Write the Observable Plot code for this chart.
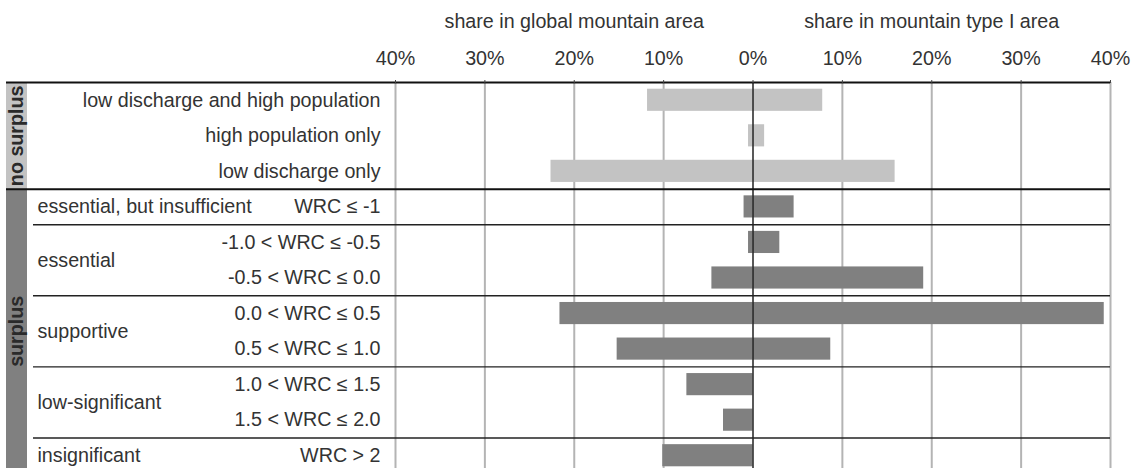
<!DOCTYPE html>
<html><head><meta charset="utf-8">
<script src="https://cdn.jsdelivr.net/npm/d3@7"></script>
<script src="https://cdn.jsdelivr.net/npm/@observablehq/plot@0.6"></script>
<style>
html,body{margin:0;padding:0;background:#fff;overflow:hidden;}
</style></head><body><div id="chart"></div>
<script>
const rowLabels = [
  "low discharge and high population",
  "high population only",
  "low discharge only",
  "WRC \u2264 -1",
  "-1.0 < WRC \u2264 -0.5",
  "-0.5 < WRC \u2264 0.0",
  "0.0 < WRC \u2264 0.5",
  "0.5 < WRC \u2264 1.0",
  "1.0 < WRC \u2264 1.5",
  "1.5 < WRC \u2264 2.0",
  "WRC > 2"
];
const surplusGroup = ["no surplus","no surplus","no surplus","surplus","surplus","surplus","surplus","surplus","surplus","surplus","surplus"];
const wrcClass = [null, null, null, "essential, but insufficient", "essential", "essential", "supportive", "supportive", "low-significant", "low-significant", "insignificant"];
const globalShare = [11.8, 0.5, 22.6, 1.0, 0.5, 4.6, 21.6, 15.2, 7.4, 3.3, 10.1];
const typeIShare  = [7.8, 1.3, 15.9, 4.6, 3.0, 19.1, 39.3, 8.7, 0, 0, 0];
const xTicks = [-40, -30, -20, -10, 0, 10, 20, 30, 40];
const headers = ["share in global mountain area", "share in mountain type I area"];
const groupNames = ["no surplus", "surplus"];
const groupColors = ["#c3c3c3", "#808080"];

const rows = rowLabels.map((label, i) => ({i, label, group: surplusGroup[i], cls: wrcClass[i], global: globalShare[i], typeI: typeIShare[i]}));
const span = ([name, rs]) => ({name, start: d3.min(rs, d => d.i), end: d3.max(rs, d => d.i) + 1});
const groups = d3.groups(rows, d => d.group).map(span);
const classes = d3.groups(rows.filter(d => d.cls), d => d.cls).map(span);
const groupStarts = new Set(groups.map(g => g.start));
const xMax = d3.max(xTicks);

const font = "'Liberation Sans', Arial, Helvetica, sans-serif";
const chart = Plot.plot({
  width: 1133,
  height: 468,
  marginTop: 82,
  marginLeft: 395,
  marginRight: 23,
  marginBottom: 0,
  style: {fontFamily: font, fontSize: "19.7px", color: "#333", background: "#fff"},
  x: {domain: [-xMax, xMax]},
  y: {domain: [0, rows.length], range: [82, 473], axis: null},
  color: {domain: groupNames, range: groupColors},
  marks: [
    Plot.ruleX(xTicks.filter(d => d !== 0), {x: d => d, stroke: "#b4b4b4", strokeWidth: 2}),
    Plot.rect(rows, {x1: 0, x2: d => -d.global, y1: "i", y2: d => d.i + 1, fill: "group", insetTop: 6.7, insetBottom: 6.7}),
    Plot.rect(rows.filter(d => d.typeI > 0), {x1: 0, x2: "typeI", y1: "i", y2: d => d.i + 1, fill: "group", insetTop: 6.7, insetBottom: 6.7}),
    Plot.ruleX([0], {stroke: "#222", strokeWidth: 1.5}),
    Plot.rect(groups, {y1: "start", y2: "end", fill: "name", insetLeft: -389, insetRight: 1083}),
    Plot.ruleY(groups, {y: "start", stroke: "#111", strokeWidth: 2, insetLeft: -389}),
    Plot.ruleY(classes.filter(c => !groupStarts.has(c.start)), {y: "start", stroke: "#222", strokeWidth: 1.4, insetLeft: -362}),
    Plot.text(groups, {y: d => (d.start + d.end) / 2, text: "name", frameAnchor: "left", textAnchor: "middle", dx: -378.5, rotate: -90, fontWeight: "bold", fill: "#2a2a2a"}),
    Plot.text(rows, {y: d => d.i + 0.5, text: "label", frameAnchor: "left", textAnchor: "end", dx: -15, fill: "#333"}),
    Plot.text(classes, {y: d => (d.start + d.end) / 2, text: "name", frameAnchor: "left", textAnchor: "start", dx: -358, fill: "#333"}),
    Plot.text(headers, {x: (d, i) => (i === 0 ? -1 : 1) * xMax / 2, text: d => d, frameAnchor: "top", dy: -55, lineAnchor: "bottom", fill: "#333"}),
    Plot.axisX(xTicks, {anchor: "top", tickFormat: d => Math.abs(d) + "%", tickSize: 3, tickPadding: 15, label: null, stroke: "#444", fill: "#333"})
  ]
});
document.getElementById("chart").appendChild(chart);
</script></body></html>
